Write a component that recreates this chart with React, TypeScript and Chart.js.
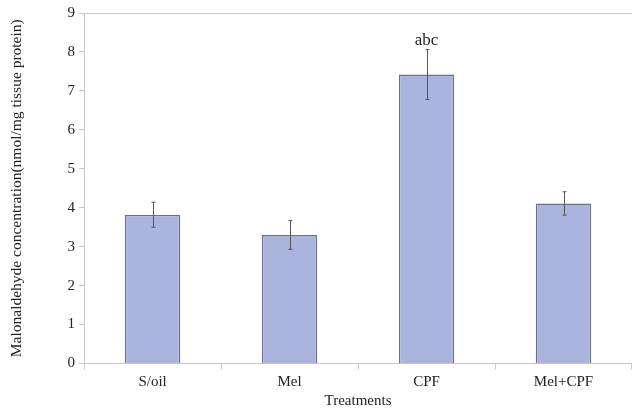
import React, { useEffect, useRef } from "react";
import { Chart, registerables } from "chart.js";

Chart.register(...registerables);

const categories = ["S/oil", "Mel", "CPF", "Mel+CPF"];
const means = [3.82, 3.3, 7.42, 4.11];
const errors = [0.32, 0.37, 0.64, 0.3];
const annotations = ["", "", "abc", ""];
const yTicks = [0, 1, 2, 3, 4, 5, 6, 7, 8, 9];

const FONT = "'Liberation Serif', 'Times New Roman', serif";

const errorBarPlugin = {
  id: "errorBars",
  afterDatasetsDraw(chart: any) {
    const { ctx } = chart;
    const meta = chart.getDatasetMeta(0);
    const y = chart.scales.y;
    ctx.save();
    ctx.strokeStyle = "#555555";
    ctx.lineWidth = 1;
    meta.data.forEach((bar: any, i: number) => {
      const x = Math.round(bar.x) + 0.5;
      const yt = y.getPixelForValue(means[i] + errors[i]);
      const yb = y.getPixelForValue(means[i] - errors[i]);
      ctx.beginPath();
      ctx.moveTo(x, yt);
      ctx.lineTo(x, yb);
      ctx.moveTo(x - 2, yt);
      ctx.lineTo(x + 2, yt);
      ctx.moveTo(x - 2, yb);
      ctx.lineTo(x + 2, yb);
      ctx.stroke();
      if (annotations[i]) {
        ctx.fillStyle = "#222222";
        ctx.font = `17px ${FONT}`;
        ctx.textAlign = "center";
        ctx.textBaseline = "bottom";
        ctx.fillText(annotations[i], bar.x, yt - 1);
      }
    });
    ctx.restore();
  },
};

export default function App() {
  const ref = useRef<HTMLCanvasElement>(null);
  useEffect(() => {
    if (!ref.current) return;
    const chart = new Chart(ref.current, {
      type: "bar",
      data: {
        labels: categories,
        datasets: [
          {
            data: means,
            backgroundColor: "rgb(170,180,220)",
            borderColor: "#6f7280",
            borderWidth: 1.5,
            categoryPercentage: 1,
            barPercentage: 0.405,
          },
        ],
      },
      options: {
        animation: false,
        responsive: false,
        maintainAspectRatio: false,
        layout: { padding: { top: 5, left: 8, right: 0, bottom: 0 } },
        plugins: { legend: { display: false }, tooltip: { enabled: false } },
        scales: {
          x: {
            grid: {
              offset: true,
              drawOnChartArea: false,
              color: "#c8c8c8",
              tickLength: 6,
            },
            border: { color: "#c8c8c8", width: 1 },
            ticks: { color: "#222", font: { family: FONT, size: 15, lineHeight: 1.1 }, padding: 4 },
            title: {
              display: true,
              text: "Treatments",
              color: "#222",
              font: { family: FONT, size: 15, lineHeight: 1.0 },
              padding: { top: 0, bottom: 1 },
            },
          },
          y: {
            min: 0,
            max: 9,
            afterBuildTicks: (axis: any) => {
              axis.ticks = yTicks.map((v) => ({ value: v }));
            },
            grid: {
              color: (c: any) => (c.tick && c.tick.value === 9 ? "#c8c8c8" : "rgba(0,0,0,0)"),
              tickColor: "#c8c8c8",
              tickLength: 5,
            },
            border: { color: "#c8c8c8", width: 1 },
            ticks: { color: "#222", font: { family: FONT, size: 15 }, padding: 4 },
            title: {
              display: true,
              text: "Malonaldehyde concentration(nmol/mg tissue protein)",
              color: "#222",
              font: { family: FONT, size: 15.5 },
              padding: { top: 0, bottom: 37 },
            },
          },
        },
      },
      plugins: [errorBarPlugin],
    });
    return () => chart.destroy();
  }, []);
  return (
    <div style={{ position: "fixed", left: 0, top: 0, width: 632, height: 410, background: "#fff" }}>
      <canvas ref={ref} width={632} height={410} />
    </div>
  );
}
